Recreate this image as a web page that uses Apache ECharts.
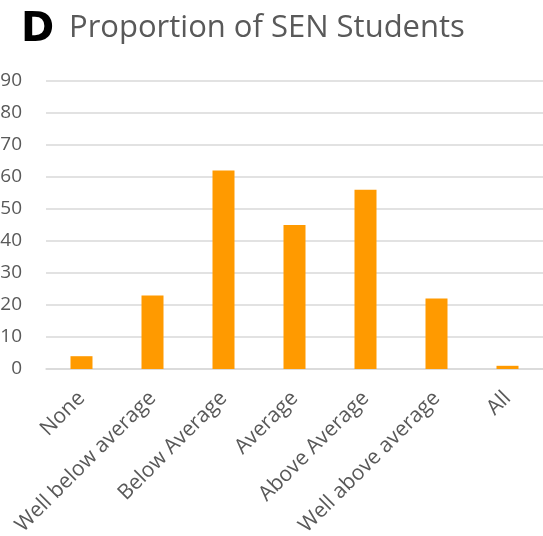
<!DOCTYPE html>
<html><head><meta charset="utf-8">
<script src="https://cdn.jsdelivr.net/npm/echarts@6/dist/echarts.min.js"></script>
<style>html,body{margin:0;padding:0;background:#fff}#c{width:543px;height:536px}</style>
</head><body><div id="c"></div>
<script>
const categories = ['None','Well below average','Below Average','Average','Above Average','Well above average','All'];
const values = [4, 23, 62, 45, 56, 22, 1];
const yTicks = [0,10,20,30,40,50,60,70,80,90];

const chart = echarts.init(document.getElementById('c'));
chart.setOption({
  animation: false,
  graphic: [
    {type: 'text', left: 21, top: 11, style: {text: 'D', fontFamily: 'DejaVu Sans', fontWeight: 'bold', fontSize: 40, fill: '#000'}},
    {type: 'text', left: 69, top: 13, style: {text: 'Proportion of SEN Students', fontFamily: 'Open Sans', fontWeight: 'normal', fontSize: 31, fill: '#595959'}}
  ],
  grid: {left: 46, right: 0, top: 81, bottom: 167, containLabel: false, outerBoundsMode: 'none'},
  xAxis: {
    type: 'category', data: categories,
    axisLine: {show: true, lineStyle: {color: '#d9d9d9', width: 1.5}},
    axisTick: {show: false},
    axisLabel: {rotate: 45, margin: 26, color: '#595959', fontFamily: 'Open Sans', fontSize: 21, interval: 0}
  },
  yAxis: {
    type: 'value', min: yTicks[0], max: yTicks[yTicks.length-1], interval: 10,
    axisLine: {show: false}, axisTick: {show: false},
    splitLine: {lineStyle: {color: '#d9d9d9', width: 1.5}},
    axisLabel: {margin: 24, color: '#595959', fontFamily: 'Open Sans', fontSize: 19}
  },
  series: [{
    type: 'bar', data: values, barWidth: 22,
    itemStyle: {color: '#ff9a00'}
  }]
});
</script></body></html>
